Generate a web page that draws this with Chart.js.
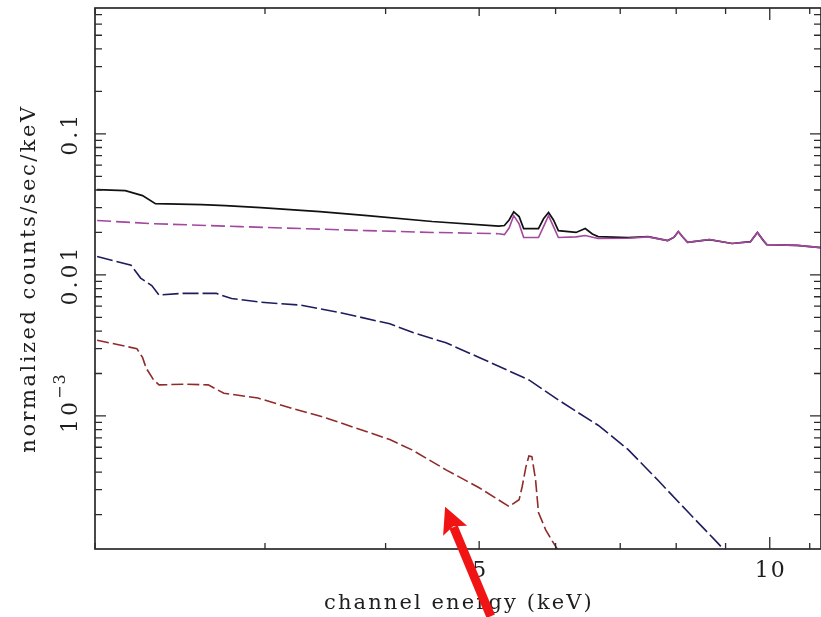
<!DOCTYPE html>
<html>
<head>
<meta charset="utf-8">
<script src="https://cdn.jsdelivr.net/npm/chart.js@4.4.1/dist/chart.umd.min.js"></script>
<style>
  html, body { margin: 0; padding: 0; background: #fff; }
  #spec { display: block; }
</style>
</head>
<body>
<canvas id="spec" width="821" height="617"></canvas>
<script>
// total model (black)
var totalE = [2.01, 2.15, 2.24, 2.31, 2.58, 2.73, 2.97, 3.27, 3.42, 3.83, 4.47, 5.24, 5.31, 5.37, 5.43, 5.50, 5.56, 5.76, 5.83, 5.90, 5.97, 6.04, 6.30, 6.44, 6.55, 6.64, 7.13, 7.48, 7.84, 7.96, 8.04, 8.13, 8.22, 8.66, 9.14, 9.55, 9.71, 9.85, 9.93, 10.67, 11.3];
var totalN = [0.0402, 0.0396, 0.0365, 0.0320, 0.0315, 0.0310, 0.0300, 0.0287, 0.0281, 0.0263, 0.0239, 0.0222, 0.0224, 0.0245, 0.0280, 0.0259, 0.0213, 0.0213, 0.0250, 0.0277, 0.0245, 0.0206, 0.0200, 0.0213, 0.0195, 0.0187, 0.0184, 0.0187, 0.0175, 0.0185, 0.0203, 0.0185, 0.0170, 0.0178, 0.0167, 0.0172, 0.0200, 0.0175, 0.0164, 0.0162, 0.0156];

// magenta component
var magE = [2.01, 2.29, 2.83, 3.27, 3.83, 4.47, 5.24, 5.31, 5.37, 5.43, 5.50, 5.56, 5.76, 5.83, 5.90, 5.97, 6.04, 6.30, 6.44, 6.64, 7.13, 7.48, 7.84, 7.96, 8.04, 8.13, 8.22, 8.66, 9.14, 9.55, 9.71, 9.85, 9.93, 10.67, 11.3];
var magN = [0.0243, 0.0231, 0.0220, 0.0213, 0.0206, 0.0200, 0.0196, 0.0193, 0.0215, 0.0263, 0.0230, 0.0184, 0.0184, 0.0220, 0.0263, 0.0220, 0.0184, 0.0186, 0.0190, 0.0181, 0.0182, 0.0186, 0.0175, 0.0185, 0.0203, 0.0185, 0.0170, 0.0178, 0.0167, 0.0172, 0.0200, 0.0175, 0.0164, 0.0162, 0.0156];

// blue component
var blueE = [2.01, 2.18, 2.23, 2.29, 2.33, 2.46, 2.67, 2.77, 2.97, 3.27, 3.59, 4.04, 4.27, 4.62, 5.00, 5.63, 6.04, 6.34, 6.64, 7.13, 7.66, 8.22, 8.82, 9.05];
var blueN = [0.0135, 0.0117, 0.0095, 0.0084, 0.0072, 0.0074, 0.0074, 0.0068, 0.0064, 0.0061, 0.0054, 0.0045, 0.0039, 0.0033, 0.0026, 0.0018, 0.0013, 0.00105, 0.00086, 0.00058, 0.00035, 0.00021, 0.000127, 0.000105];

// red component (with the line near 5.6 keV)
var redE = [2.01, 2.21, 2.24, 2.26, 2.30, 2.33, 2.48, 2.62, 2.72, 2.95, 3.19, 3.45, 3.73, 4.04, 4.26, 4.62, 5.00, 5.37, 5.50, 5.54, 5.59, 5.63, 5.67, 5.72, 5.76, 5.86, 5.94, 6.01, 6.08];
var redN = [0.00344, 0.0030, 0.0026, 0.00218, 0.0018, 0.00166, 0.00168, 0.00166, 0.00145, 0.00134, 0.00114, 0.00098, 0.00082, 0.00068, 0.000575, 0.000415, 0.00031, 0.000228, 0.000255, 0.000315, 0.000436, 0.00052, 0.000515, 0.000353, 0.000207, 0.000156, 0.000133, 0.000117, 0.0001];

var xTickValues = [5, 10];
var xTickLabels = ['5', '10'];
var xMinorTicks = [2, 3, 4, 6, 7, 8, 9, 11];
var yTickValues = [0.1, 0.01, 0.001];
var yTickLabels = ['0.1', '0.01', '10^-3'];
var xTitle = 'channel energy (keV)';
var yTitle = 'normalized counts/sec/keV';

// red arrow, in data units
var arrowFrom = { x: 5.14, y: 3.8e-5 };
var arrowTo = { x: 4.61, y: 2.27e-4 };

var FONT = '"DejaVu Serif", serif';

function toPoints(e, n) {
    return e.map(function (v, i) { return { x: v, y: n[i] }; });
}

var FramePlugin = {
    id: 'frame',
    afterDatasetsDraw: function (chart) {
        var ctx = chart.ctx, a = chart.chartArea;
        var xs = chart.scales.x, ys = chart.scales.y;
        ctx.save();
        ctx.strokeStyle = '#2a2a2a';
        ctx.lineWidth = 1.7;
        ctx.strokeRect(a.left, a.top, a.right - a.left, a.bottom - a.top);

        // inward ticks, all four sides
        ctx.lineWidth = 1.3;
        ctx.beginPath();
        var xt = xTickValues.concat(xMinorTicks);
        xt.forEach(function (v) {
            var px = xs.getPixelForValue(v);
            if (px < a.left || px > a.right) return;
            var len = v === 10 ? 12 : (xTickValues.indexOf(v) >= 0 ? 8 : 6);
            ctx.moveTo(px, a.bottom); ctx.lineTo(px, a.bottom - len);
            ctx.moveTo(px, a.top); ctx.lineTo(px, a.top + len);
        });
        for (var e = -4; e <= 0; e++) {
            for (var k = 1; k <= 9; k++) {
                var v = k * Math.pow(10, e);
                if (v < ys.min || v > ys.max) continue;
                var py = ys.getPixelForValue(v);
                var len = k === 1 ? 11 : 7;
                ctx.moveTo(a.left, py); ctx.lineTo(a.left + len, py);
                ctx.moveTo(a.right, py); ctx.lineTo(a.right - len, py);
            }
        }
        ctx.stroke();

        // labels
        ctx.fillStyle = '#1e1e1e';
        ctx.font = '22px ' + FONT;
        ctx.letterSpacing = '2px';
        ctx.textAlign = 'center';
        ctx.textBaseline = 'middle';
        xTickValues.forEach(function (v, i) {
            ctx.fillText(xTickLabels[i], xs.getPixelForValue(v) + 1, a.bottom + 22);
        });
        ctx.font = '21px ' + FONT;
        ctx.letterSpacing = '2.1px';
        ctx.fillText(xTitle, (a.left + 821) / 2 + 1, a.bottom + 55);

        yTickValues.forEach(function (v, i) {
            var py = ys.getPixelForValue(v);
            ctx.save();
            ctx.font = '22px ' + FONT;
            ctx.letterSpacing = '3px';
            ctx.translate(71, py);
            ctx.rotate(-Math.PI / 2);
            var parts = yTickLabels[i].split('^');
            if (parts.length === 1) {
                ctx.textAlign = 'center';
                ctx.fillText(parts[0], 0, 0);
            } else {
                var w = ctx.measureText(parts[0]).width;
                ctx.textAlign = 'left';
                ctx.fillText(parts[0], -w / 2, 0);
                ctx.font = '16px ' + FONT;
                ctx.letterSpacing = '1px';
                ctx.fillText(parts[1].replace('-', '\u2212'), w / 2, -10);
            }
            ctx.restore();
        });

        ctx.save();
        ctx.font = '21px ' + FONT;
        ctx.letterSpacing = '2.5px';
        ctx.translate(30, (a.top + a.bottom) / 2);
        ctx.rotate(-Math.PI / 2);
        ctx.textAlign = 'center';
        ctx.fillText(yTitle, 0, 0);
        ctx.restore();

        ctx.restore();
    },
    afterDraw: function (chart) {
        var ctx = chart.ctx;
        var xs = chart.scales.x, ys = chart.scales.y;
        var x0 = xs.getPixelForValue(arrowFrom.x), y0 = ys.getPixelForValue(arrowFrom.y);
        var x1 = xs.getPixelForValue(arrowTo.x), y1 = ys.getPixelForValue(arrowTo.y);
        var dx = x1 - x0, dy = y1 - y0;
        var L = Math.sqrt(dx * dx + dy * dy);
        var ux = dx / L, uy = dy / L;
        var head = 26, half = 13;
        var bx = x1 - ux * head, by = y1 - uy * head;
        ctx.save();
        ctx.strokeStyle = '#f01414';
        ctx.fillStyle = '#f01414';
        ctx.lineWidth = 9;
        ctx.beginPath();
        ctx.moveTo(x0, y0);
        ctx.lineTo(bx + ux * 4, by + uy * 4);
        ctx.stroke();
        ctx.beginPath();
        ctx.moveTo(x1, y1);
        ctx.lineTo(bx - uy * half, by + ux * half);
        ctx.lineTo(bx + ux * 5, by + uy * 5);
        ctx.lineTo(bx + uy * half, by - ux * half);
        ctx.closePath();
        ctx.fill();
        ctx.restore();
    }
};

var ctx = document.getElementById('spec');
var myChart = new Chart(ctx, {
    type: 'line',
    data: {
        datasets: [
            {
                label: 'magenta',
                data: toPoints(magE, magN),
                borderColor: '#a4479f',
                borderWidth: 1.6,
                pointRadius: 0,
                segment: {
                    borderDash: function (c) { return c.p0.parsed.x < 5.2 ? [14, 5] : undefined; }
                }
            },
            {
                label: 'total',
                data: toPoints(totalE, totalN),
                borderColor: '#111111',
                borderWidth: 1.7,
                pointRadius: 0
            },
            {
                label: 'blue',
                data: toPoints(blueE, blueN),
                borderColor: '#1d1d5e',
                borderWidth: 1.6,
                borderDash: [16, 4],
                pointRadius: 0
            },
            {
                label: 'red',
                data: toPoints(redE, redN),
                borderColor: '#902b2b',
                borderWidth: 1.6,
                borderDash: [12, 4],
                pointRadius: 0
            }
        ]
    },
    options: {
        responsive: false,
        animation: false,
        events: [],
        layout: { padding: { top: 8, right: -3, left: 0, bottom: 0 } },
        plugins: { legend: { display: false }, tooltip: { enabled: false } },
        scales: {
            x: {
                type: 'logarithmic',
                min: 2.0,
                max: 11.3,
                ticks: { display: false },
                grid: { display: false },
                border: { display: false },
                afterFit: function (s) { s.height = 68; }
            },
            y: {
                type: 'logarithmic',
                min: 1.14e-4,
                max: 0.78,
                ticks: { display: false },
                grid: { display: false },
                border: { display: false },
                afterFit: function (s) { s.width = 95; }
            }
        }
    },
    plugins: [FramePlugin]
});
</script>
</body>
</html>
